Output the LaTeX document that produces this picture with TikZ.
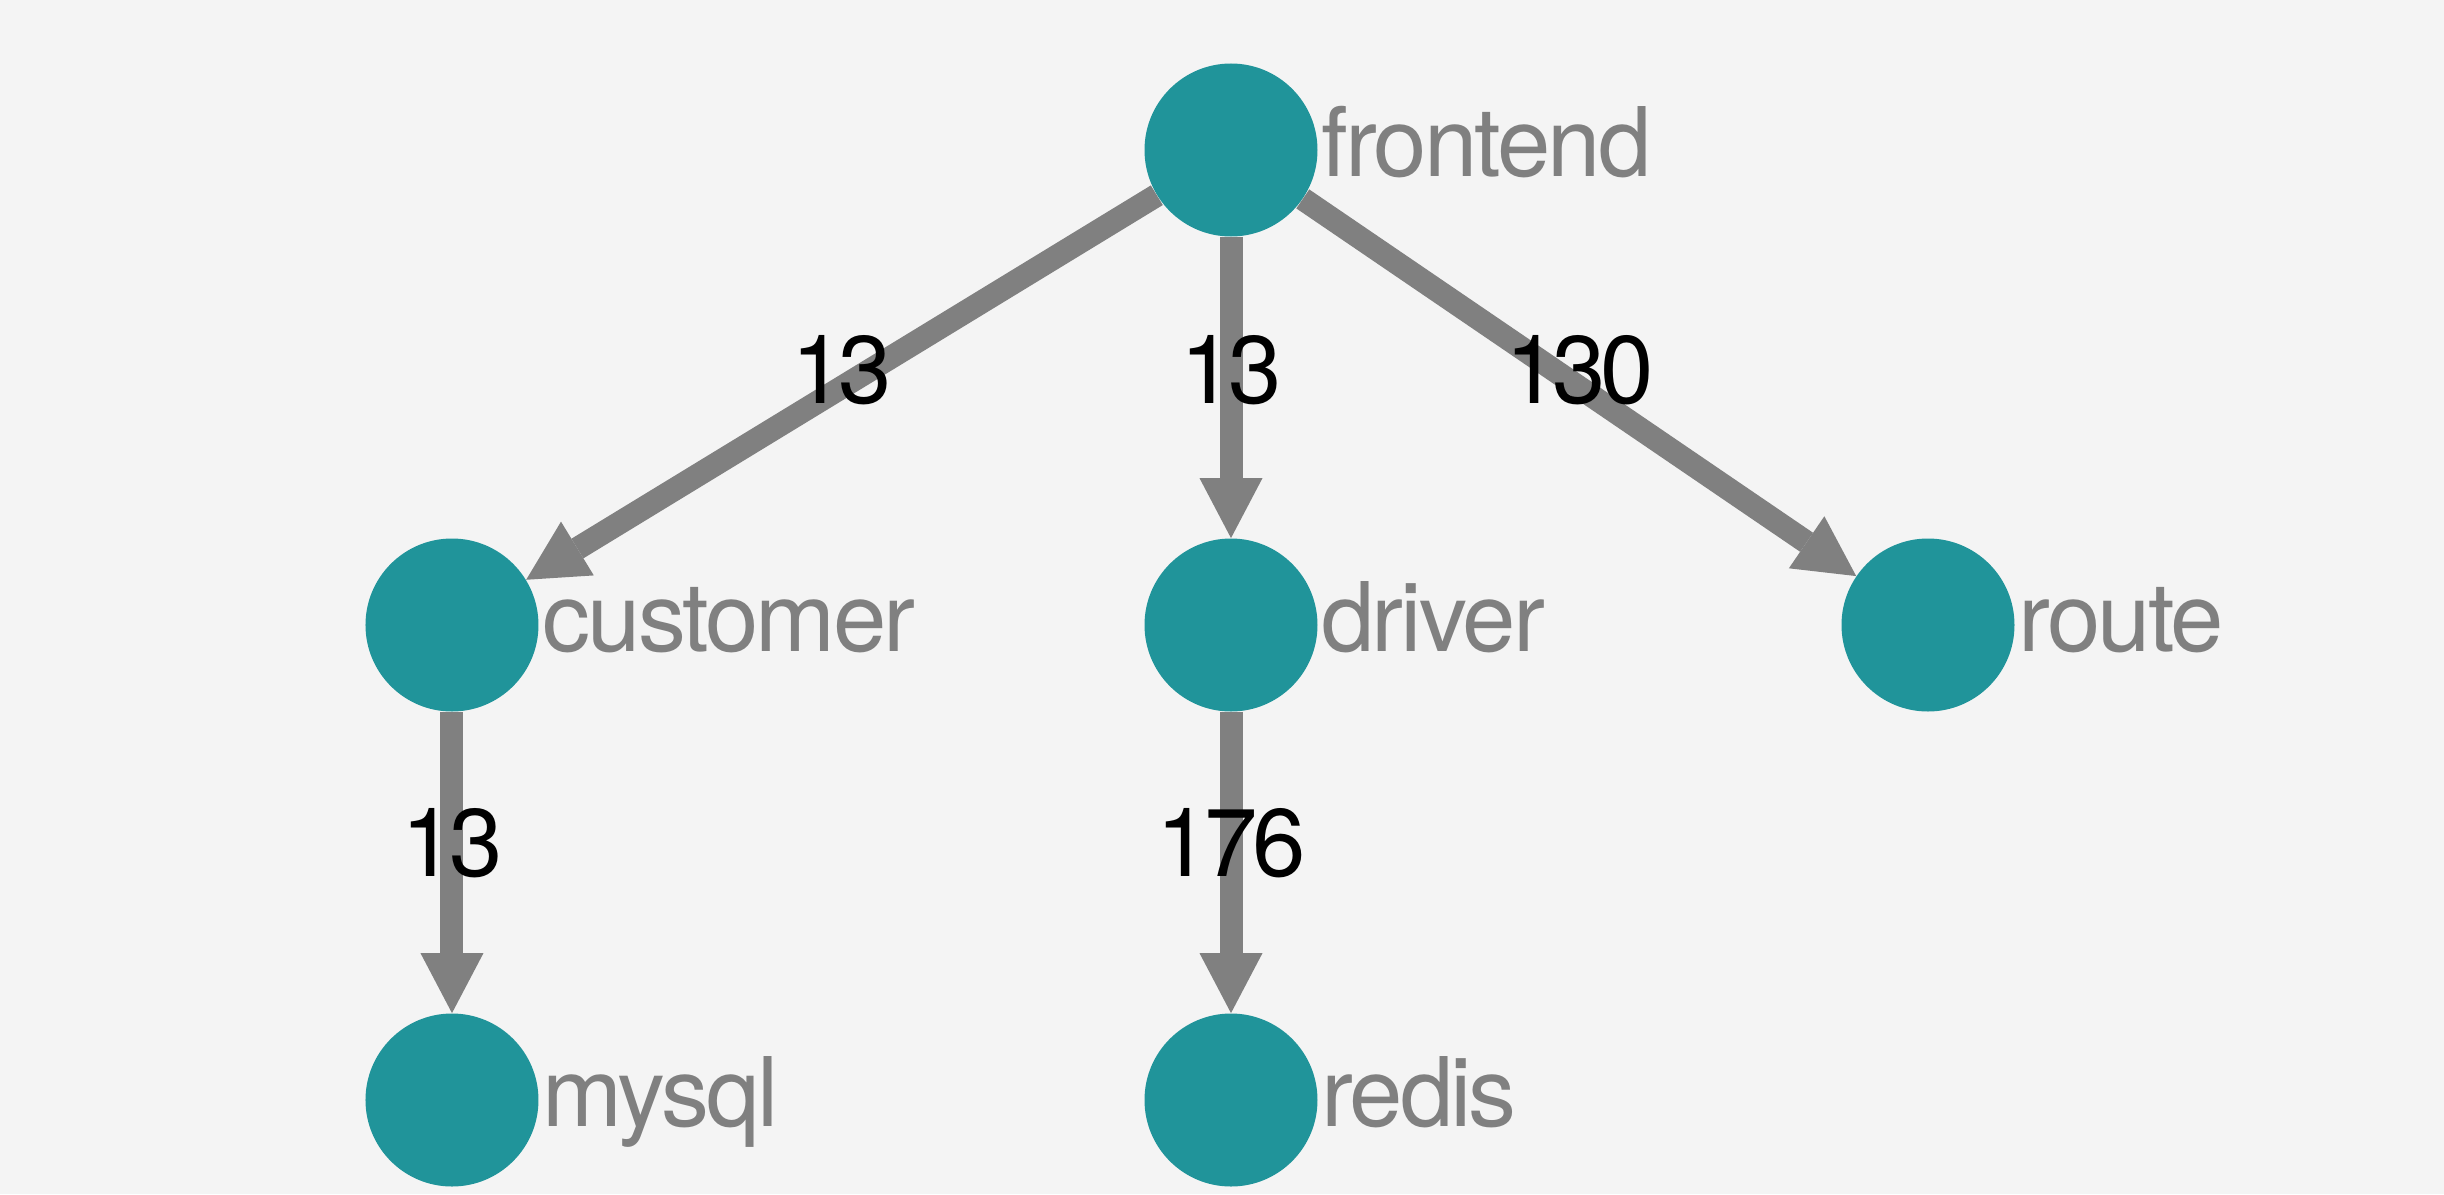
\documentclass[tikz,border=0pt]{standalone}
\usepackage{fontspec}
\setmainfont{TeX Gyre Heros}[LetterSpace=-3]
\newfontfamily\countfont{TeX Gyre Heros}[LetterSpace=-6]
\usetikzlibrary{arrows.meta,positioning}
\definecolor{svcteal}{RGB}{32,148,154}
\definecolor{edgegray}{RGB}{128,128,128}
\definecolor{bggray}{RGB}{244,244,244}

\begin{document}
\begin{tikzpicture}[node distance=237.5pt,on grid,
    svc node/.style={circle,fill=svcteal,minimum size=86.5pt,inner sep=0pt},
    svc text/.style={anchor=west,inner xsep=1.5pt,inner ysep=0pt,text=edgegray,
      text height=36.5pt,text depth=9.6pt,font=\fontsize{48}{58}\selectfont},
    calls/.style={color=edgegray,line width=11.5pt,
      -{Triangle[length=30pt,width=31.5pt,line width=0pt]}},
    count/.style={midway,yshift=8.5pt,text=black,
      font=\countfont\fontsize{48}{58}\selectfont}]
    \path[use as bounding box,fill=bggray] (-615.5pt,-522pt) rectangle (606.5pt,75pt);
    % services
    \node[svc node] (frontend) {};
    \node[svc node] (driver) [below=of frontend] {};
    \node[svc node] (customer) [left=389.5pt of driver] {};
    \node[svc node] (route) [right=348.5pt of driver] {};
    \node[svc node] (mysql) [below=of customer] {};
    \node[svc node] (redis) [below=of driver] {};
    % names
    \node[svc text] (frontend-name) at (frontend.east) {frontend};
    \node[svc text] (customer-name) at (customer.east) {customer};
    \node[svc text] (driver-name) at (driver.east) {driver};
    \node[svc text] (route-name) at (route.east) {route};
    \node[svc text] (mysql-name) at (mysql.east) {mysql};
    \node[svc text] (redis-name) at (redis.east) {redis};

    \path[calls,draw]
    (frontend) edge node[count] {13} (customer)
    (frontend) edge node[count] {13} (driver)
    (frontend) edge node[count] {130} (route)
    (customer) edge node[count,yshift=1pt] {13} (mysql)
    (driver) edge node[count,yshift=1pt] {176} (redis);
\end{tikzpicture}
\end{document}
